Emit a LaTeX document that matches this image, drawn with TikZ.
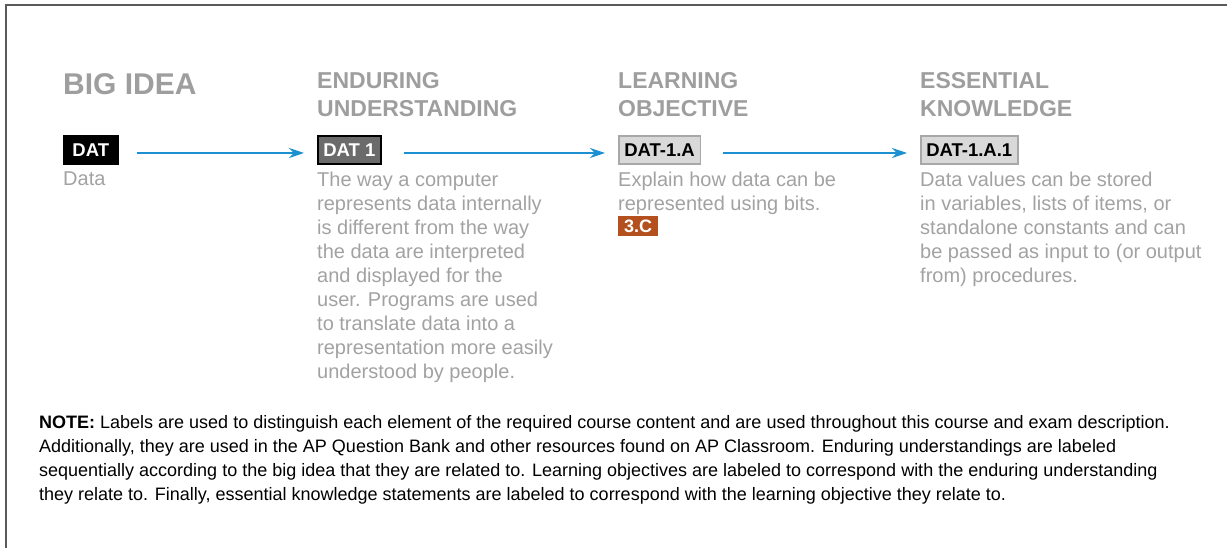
\documentclass[tikz,border=0pt]{standalone}
\usepackage{fontspec}
\setmainfont{Liberation Sans}
\usetikzlibrary{arrows.meta}
\definecolor{headgray}{HTML}{9E9E9E}
\definecolor{textgray}{HTML}{A2A2A2}
\definecolor{eugray}{HTML}{6B6B6B}
\definecolor{lotagfill}{HTML}{D9D9D9}
\definecolor{lotagdraw}{HTML}{A8A8A8}
\definecolor{flowblue}{HTML}{1B91D2}
\definecolor{skillrust}{HTML}{B4501E}
\definecolor{framegray}{HTML}{5A5A5A}
\begin{document}
\begin{tikzpicture}[x=1pt, y=-1pt]
                \tikzset{heading/.style={anchor=north west, inner sep=0pt, align=left, text=headgray, font=\fontsize{23}{28}\selectfont\bfseries}}
                \tikzset{tag/.style={anchor=west, minimum height=28pt, inner xsep=5.5pt, inner ysep=0pt, line width=1.5pt, font=\fontsize{18.5}{20}\selectfont\bfseries}}
                \tikzset{desc/.style={anchor=north west, inner sep=0pt, align=left, text=textgray, font=\fontsize{20}{24}\selectfont}}
                \tikzset{flow/.style={-{Stealth[length=15pt, width=10pt]}, line width=1.5pt, draw=flowblue, shorten <=22pt, shorten >=13pt, transform canvas={yshift=-3pt}}}
                \useasboundingbox (0, 0) rectangle (1227, 548);
                % Рамка сверху и слева:
                \draw[framegray, line width=2pt] (6, 548) -- (6, 5) -- (1227, 5);

                % Заголовки колонок:
                \node[heading, font=\fontsize{30}{34}\selectfont\bfseries] (hbig) at (63, 73) {BIG IDEA};
                \node[heading] (heu) at (317, 72) {ENDURING\\UNDERSTANDING};
                \node[heading] (hlo) at (618, 72) {LEARNING\\OBJECTIVE};
                \node[heading] (hek) at (920, 72) {ESSENTIAL\\KNOWLEDGE};

                % Метки и стрелки между ними:
                \node[tag, fill=black, draw=black, text=white, minimum width=54pt] (tbig) at (63, 150) {DAT};
                \node[tag, fill=eugray, draw=black, text=white] (teu) at (317, 150) {DAT 1};
                \node[tag, fill=lotagfill, draw=lotagdraw, text=black] (tlo) at (618, 150) {DAT-1.A};
                \node[tag, fill=lotagfill, draw=lotagdraw, text=black] (tek) at (920, 150) {DAT-1.A.1};
                \draw[flow, shorten <=18pt] (tbig.east) -- (teu.west);
                \draw[flow] (teu.east) -- (tlo.west);
                \draw[flow] (tlo.east) -- (tek.west);

                % Тексты под метками:
                \node[desc] (dbig) at (63, 172) {Data};
                \node[desc] (deu) at (317, 172) {The way a computer\\represents data internally\\is different from the way\\the data are interpreted\\and displayed for the\\user. Programs are used\\to translate data into a\\representation more easily\\understood by people.};
                \node[desc] (dlo) at (618, 172) {Explain how data can be\\represented using bits.};
                \node[anchor=north west, fill=skillrust, text=white, inner xsep=6pt, inner ysep=0pt, minimum height=20pt, font=\fontsize{18}{20}\selectfont\bfseries] (skill) at (618, 216) {3.C};
                \node[desc] (dek) at (920, 172) {Data values can be stored\\in variables, lists of items, or\\standalone constants and can\\be passed as input to (or output\\from) procedures.};

                % Примечание:
                \node[anchor=north west, inner sep=0pt, align=left, font=\fontsize{18}{24}\selectfont] (note) at (39, 415) {\textbf{NOTE:} Labels are used to distinguish each element of the required course content and are used throughout this course and exam description.\\Additionally, they are used in the AP Question Bank and other resources found on AP Classroom. Enduring understandings are labeled\\sequentially according to the big idea that they are related to. Learning objectives are labeled to correspond with the enduring understanding\\they relate to. Finally, essential knowledge statements are labeled to correspond with the learning objective they relate to.};
            \end{tikzpicture}
\end{document}
